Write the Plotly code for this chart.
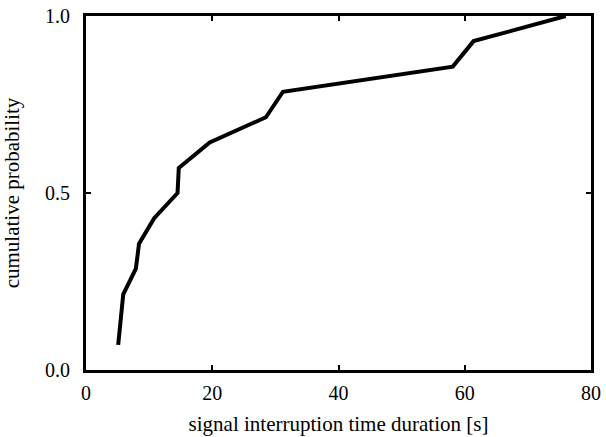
import plotly.graph_objects as go

# interruption durations [s] and their cumulative probability
duration = [5.1, 5.9, 7.9, 8.4, 10.8, 14.5, 14.7, 19.6, 28.5, 31.2, 58.1, 61.4, 76.0]
cum_prob = [0.071, 0.214, 0.286, 0.357, 0.429, 0.500, 0.571, 0.643, 0.714, 0.786, 0.857, 0.929, 1.0]

x_ticks = [0, 20, 40, 60, 80]
y_ticks = [0.0, 0.5, 1.0]
y_ticklabels = ["0.0", "0.5", "1.0"]

serif = "Liberation Serif, Times New Roman, serif"

fig = go.Figure(go.Scatter(x=duration, y=cum_prob, mode="lines",
                           line=dict(color="black", width=4),
                           cliponaxis=False))

axis_style = dict(showline=True, linecolor="black", linewidth=3, mirror="ticks",
                  ticks="inside", ticklen=5, tickwidth=1.5, tickcolor="black",
                  showgrid=False, zeroline=False, automargin=False,
                  tickfont=dict(family=serif, size=20, color="black"))

fig.update_xaxes(range=[0, 80], tickvals=x_ticks, ticklabelstandoff=3,
                 title=dict(text="signal interruption time duration [s]", standoff=14,
                            font=dict(family=serif, size=21, color="black")),
                 **axis_style)
fig.update_yaxes(range=[0, 1], tickvals=y_ticks, ticktext=y_ticklabels, ticklabelstandoff=9,
                 title=dict(text="cumulative probability", standoff=21,
                            font=dict(family=serif, size=21, color="black")),
                 **axis_style)

fig.update_layout(width=606, height=437, margin=dict(l=86, r=15, t=16, b=67),
                  font=dict(family=serif, size=20, color="black"),
                  plot_bgcolor="white", paper_bgcolor="white", showlegend=False)

# drop the page's default body margin so the figure sits at the window corner
fig.write_html("out.html", config={"displayModeBar": False},
               post_script="document.body.style.margin='0';")
